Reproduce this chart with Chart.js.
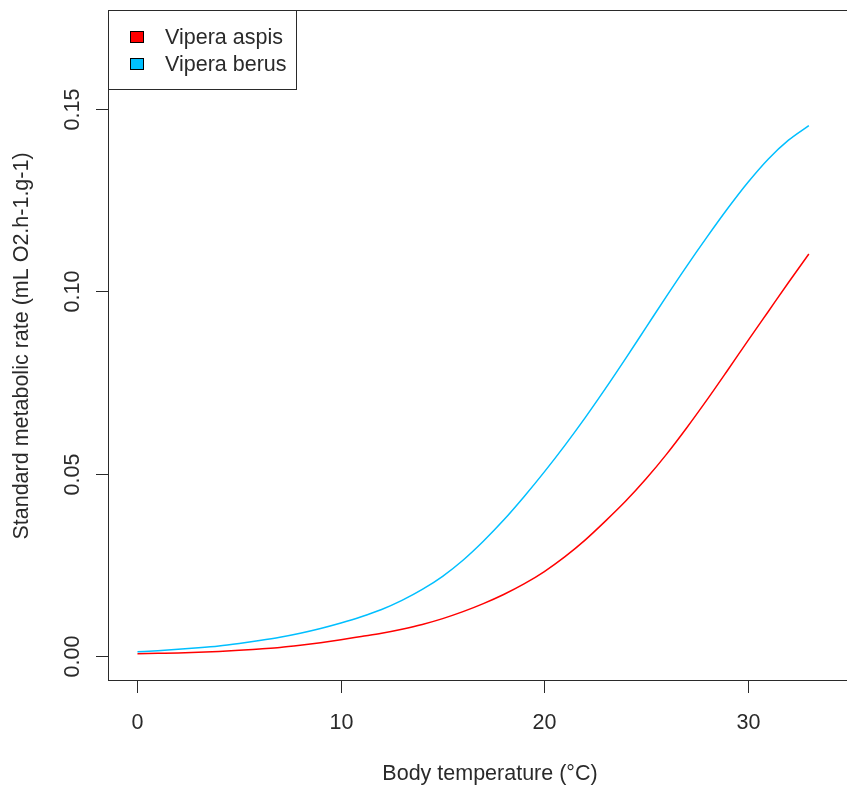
<!DOCTYPE html>
<html>
<head>
<meta charset="utf-8">
<script src="https://cdn.jsdelivr.net/npm/chart.js@4.4.1/dist/chart.umd.min.js"></script>
<style>
  html, body { margin:0; padding:0; background:#fff; overflow:hidden; }
  #wrap { width:900px; height:789px; }
</style>
</head>
<body>
<div id="wrap"><canvas id="smr" width="900" height="789"></canvas></div>
<script>
/* =========================
   DATA
========================= */
const temps = [0,1,2,3,4,5,6,7,8,9,10,11,12,13,14,15,16,17,18,19,20,21,22,23,24,25,26,27,28,29,30,31,32,33]

const aspis = [0.0007,0.0008,0.0009,0.0011,0.0013,0.0016,0.0020,0.0024,0.0030,0.0037,
               0.0045,0.0054,0.0063,0.0074,0.0087,0.0103,0.0122,0.0144,0.0169,0.0198,
               0.0232,0.0272,0.0318,0.0370,0.0425,0.0486,0.0553,0.0626,0.0703,0.0783,
               0.0864,0.0944,0.1024,0.1102]

const berus = [0.0012,0.0015,0.0019,0.0023,0.0028,0.0035,0.0043,0.0052,0.0063,0.0076,
               0.0091,0.0108,0.0128,0.0153,0.0183,0.0219,0.0263,0.0315,0.0373,0.0437,
               0.0505,0.0577,0.0653,0.0733,0.0816,0.0901,0.0986,0.1069,0.1149,0.1226,
               0.1298,0.1362,0.1414,0.1454]

const seriesNames = ["Vipera aspis", "Vipera berus"]
const seriesColors = ["#ff0000", "#00bfff"]

const xTicks = [0, 10, 20, 30]
const yTicks = [0, 0.05, 0.10, 0.15]
const yTickLabels = ["0.00", "0.05", "0.10", "0.15"]

const xTitle = "Body temperature (°C)"
const yTitle = "Standard metabolic rate (mL O2.h-1.g-1)"

const FONT = "21.5px 'Liberation Sans', Arial, sans-serif"
const INK = "#2a2a2a"

/* =========================
   R-STYLE AXES + BOX + LEGEND
========================= */
const baseAxes = {
  id: "baseAxes",
  afterDraw(chart){
    const ctx = chart.ctx
    const a = chart.chartArea
    const xs = chart.scales.x
    const ys = chart.scales.y

    ctx.save()
    ctx.strokeStyle = INK
    ctx.lineWidth = 1
    ctx.fillStyle = INK
    ctx.font = FONT

    // plot box (right side runs off the page)
    ctx.strokeRect(Math.round(a.left) - 0.5, Math.round(a.top) - 0.5,
                   a.right - a.left, a.bottom - a.top)

    // x axis ticks
    ctx.textAlign = "center"
    ctx.textBaseline = "middle"
    xTicks.forEach(t => {
      const px = Math.round(xs.getPixelForValue(t)) + 0.5
      ctx.beginPath()
      ctx.moveTo(px, a.bottom)
      ctx.lineTo(px, a.bottom + 12)
      ctx.stroke()
      ctx.fillText(String(t), px, a.bottom + 42)
    })

    // y axis ticks, labels turned like R's las=0
    yTicks.forEach((t, i) => {
      const py = Math.round(ys.getPixelForValue(t)) + 0.5
      ctx.beginPath()
      ctx.moveTo(a.left - 13, py)
      ctx.lineTo(a.left, py)
      ctx.stroke()
      ctx.save()
      ctx.translate(a.left - 36, py)
      ctx.rotate(-Math.PI / 2)
      ctx.fillText(yTickLabels[i], 0, 0)
      ctx.restore()
    })

    // titles
    ctx.fillText(xTitle, 490, 774)
    ctx.save()
    ctx.translate(22, (a.top + a.bottom) / 2)
    ctx.rotate(-Math.PI / 2)
    ctx.fillText(yTitle, 0, 0)
    ctx.restore()

    // legend box
    const lx = 108.5, ly = 10.5, lw = 188, lh = 79
    ctx.fillStyle = "#fff"
    ctx.fillRect(lx, ly, lw, lh)
    ctx.strokeRect(lx, ly, lw, lh)
    chart.data.datasets.forEach((ds, i) => {
      const cy = 37 + i * 27
      ctx.fillStyle = ds.borderColor
      ctx.fillRect(130, cy - 6, 14, 12)
      ctx.strokeStyle = "#000"
      ctx.strokeRect(130.5, cy - 5.5, 13, 11)
      ctx.fillStyle = INK
      ctx.textAlign = "left"
      ctx.fillText(ds.label, 165, cy + 1)
    })

    ctx.restore()
  }
}

/* =========================
   CHART
========================= */
const ctx = document.getElementById("smr")

new Chart(ctx, {
  type: "line",
  data: {
    datasets: [
      {
        label: seriesNames[0],
        data: temps.map((t, i) => ({ x: t, y: aspis[i] })),
        borderColor: seriesColors[0],
        borderWidth: 1.5,
        pointRadius: 0,
        cubicInterpolationMode: "monotone",
        fill: false
      },
      {
        label: seriesNames[1],
        data: temps.map((t, i) => ({ x: t, y: berus[i] })),
        borderColor: seriesColors[1],
        borderWidth: 1.5,
        pointRadius: 0,
        cubicInterpolationMode: "monotone",
        fill: false
      }
    ]
  },
  options: {
    responsive: false,
    animation: false,
    events: [],
    layout: { padding: { left: 109, top: 11, right: 22, bottom: 108 } },
    plugins: {
      legend: { display: false },
      tooltip: { enabled: false }
    },
    scales: {
      x: { type: "linear", min: -1.4, max: 36.4, display: false },
      y: { type: "linear", min: -0.0068, max: 0.1768, display: false }
    }
  },
  plugins: [baseAxes]
})
</script>
</body>
</html>
